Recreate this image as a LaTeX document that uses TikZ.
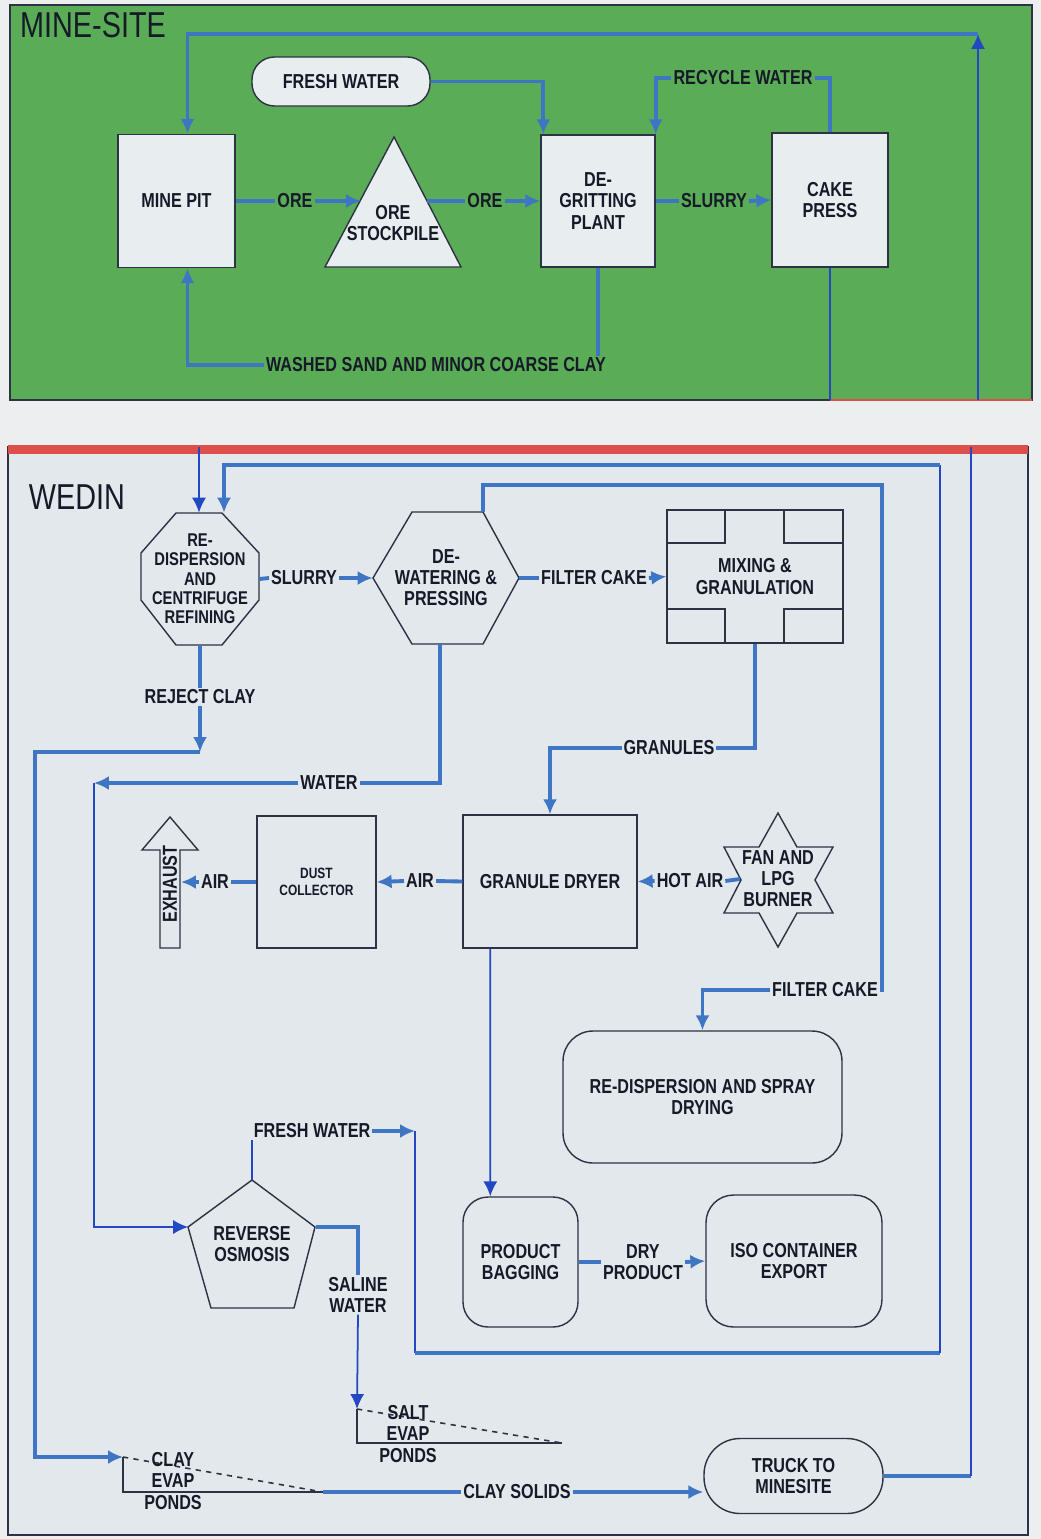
\documentclass[tikz,border=0pt]{standalone}
\usepackage{fontspec}
\setmainfont{Liberation Sans}[FakeStretch=0.8]
\usetikzlibrary{arrows.meta,calc}

\definecolor{page}{RGB}{236,238,240}
\definecolor{minegreen}{RGB}{90,172,86}
\definecolor{wedinbg}{RGB}{226,232,236}
\definecolor{boxfill}{RGB}{232,237,240}
\definecolor{pipeblue}{RGB}{62,118,196}
\definecolor{wireblue}{RGB}{34,72,196}
\definecolor{edge}{RGB}{45,50,68}
\definecolor{ink}{RGB}{22,26,40}
\definecolor{bandred}{RGB}{222,78,74}

\begin{document}
\begin{tikzpicture}[x=0.02cm, y=-0.02cm,
    every node/.style={font=\fontsize{11.5}{12}\selectfont\bfseries, text=ink, align=center, inner sep=1pt},
    title/.style={font=\fontsize{20.5}{22}\selectfont},
    unit/.style={draw=edge, line width=0.8pt},
    flow/.style={draw=pipeblue, line width=2.2pt},
    wire/.style={draw=wireblue, line width=1pt},
    arr/.style={-{Latex[length=8.5pt,width=8pt]}},
    pond/.style={draw=edge, line width=0.9pt, dashed}]

    % Page and panels
    \fill[page] (0,0) rectangle (1041,1539);
    \useasboundingbox (0,0) rectangle (1041,1539);
    \fill[minegreen] (10,5) rectangle (1032,400);
    \draw[edge, line width=0.6pt] (10,5) rectangle (1032,400);
    \draw[bandred, line width=1.5pt] (830,400) -- (1032,400);
    \fill[wedinbg] (8,447) rectangle (1028,1535);
    \draw[edge, line width=0.6pt] (8,447) rectangle (1028,1535);
    \fill[bandred] (8,445) rectangle (1028,454);

    \node[title] (minesite) at (93,25) {MINE-SITE};
    \node[title] (wedin) at (77,497) {WEDIN};

    % Mine-site units
    \node[unit, fill=boxfill, minimum width=2.34cm, minimum height=2.66cm] (minepit) at (176.5,201) {MINE PIT};
    \draw[unit, fill=boxfill] (394,137) -- (461,267) -- (325,267) -- cycle;
    \node (stockpile) at (393,223) {ORE\\STOCKPILE};
    \coordinate (stockin) at (361,201);
    \coordinate (stockout) at (427,201);
    \node[unit, fill=boxfill, minimum width=2.28cm, minimum height=2.64cm] (degrit) at (598,201) {DE-\\GRITTING\\PLANT};
    \node[unit, fill=boxfill, minimum width=2.32cm, minimum height=2.68cm] (cakepress) at (830,200) {CAKE\\PRESS};
    \node[unit, fill=boxfill, rounded corners=0.45cm, minimum width=3.56cm, minimum height=0.98cm] (freshwater) at (341,81.5) {FRESH WATER};

    % Mine-site flows
    \node (ore1) at (295,201) {ORE};
    \node (ore2) at (485,201) {ORE};
    \node (slurry1) at (714,201) {SLURRY};
    \node (recycle) at (743,78) {RECYCLE WATER};
    \node (washed) at (436,365) {WASHED SAND AND MINOR COARSE CLAY};
    \draw[flow] (minepit.east) -- (ore1.west);
    \draw[flow,arr] (ore1.east) -- (stockin);
    \draw[flow] (stockout) -- (ore2.west);
    \draw[flow,arr] (ore2.east) -- (degrit.west);
    \draw[flow] (degrit.east) -- (slurry1.west);
    \draw[flow,arr] (slurry1.east) -- (cakepress.west);
    \draw[flow,arr] (freshwater.east) -| ($(degrit.north west)+(3,0)$);
    \draw[flow] (cakepress.north) |- (recycle.east);
    \draw[flow,arr] (recycle.west) -| (degrit.north east);
    \draw[flow] (degrit.south) -- (degrit.south |- washed.north);
    \draw[flow,arr] (washed.west) -| ($(minepit.south)+(11,0)$);

    % Links between the two sites
    \coordinate (mineright) at (978,400);
    \coordinate (minetop) at (978,34);
    \coordinate (cakeout) at (830,400);
    \coordinate (wedintop) at (199,447);
    \coordinate (wedinright) at (971,447);
    \draw[wire,arr] (mineright) -- (minetop);
    \draw[flow,arr] (minetop) -| ($(minepit.north)+(11,0)$);
    \draw[wire] (cakepress.south) -- (cakeout);

    % Wedin units
    \draw[unit] (176,513) -- (222,513) -- (259,553) -- (259,600) -- (222,645) -- (176,645) -- (141,600) -- (141,553) -- cycle;
    \node[minimum width=2.36cm, minimum height=2.64cm, font=\fontsize{10.5}{11}\selectfont\bfseries] (redisp) at (200,579) {RE-\\DISPERSION\\AND\\CENTRIFUGE\\REFINING};
    \draw[unit] (412,512) -- (483,512) -- (519,578) -- (483,644) -- (412,644) -- (373,578) -- cycle;
    \node[minimum width=2.92cm, minimum height=2.64cm] (dewater) at (446,578) {DE-\\WATERING \&\\PRESSING};
    \node[unit, minimum width=3.52cm, minimum height=2.66cm] (mixing) at (755,576.5) {MIXING \&\\GRANULATION};
    \draw[unit] (667,543) -| (725,510);
    \draw[unit] (784,510) |- (843,543);
    \draw[unit] (667,609) -| (725,643);
    \draw[unit] (784,643) |- (843,609);
    \node[unit, minimum width=3.48cm, minimum height=2.66cm] (dryer) at (550,881.5) {GRANULE DRYER};
    \draw[unit] (778,813) -- (797,847) -- (833,847) -- (815,880) -- (833,913) -- (797,913) -- (778,947)
        -- (759,913) -- (724,913) -- (741,880) -- (724,847) -- (759,847) -- cycle;
    \node[minimum width=1.48cm] (burner) at (778,879) {FAN AND\\LPG\\BURNER};
    \node[unit, minimum width=2.38cm, minimum height=2.64cm, font=\fontsize{8.5}{10}\selectfont\bfseries] (dust) at (316.5,882) {DUST\\COLLECTOR};
    \draw[unit] (170,817) -- (198,850) -- (180,850) -- (180,948) -- (160,948) -- (160,850) -- (142,850) -- cycle;
    \node[rotate=90] (exhaust) at (170,884) {EXHAUST};
    \coordinate (exhaustin) at (181,882);
    \node[unit, rounded corners=0.6cm, minimum width=5.58cm, minimum height=2.64cm] (spray) at (702.5,1097) {RE-DISPERSION AND SPRAY\\DRYING};
    \node[unit, rounded corners=0.5cm, minimum width=2.3cm, minimum height=2.6cm] (bagging) at (520.5,1262) {PRODUCT\\BAGGING};
    \node[unit, rounded corners=0.55cm, minimum width=3.52cm, minimum height=2.64cm] (iso) at (794,1261) {ISO CONTAINER\\EXPORT};
    \draw[unit] (252,1180) -- (315,1227) -- (294,1308) -- (211,1308) -- (188,1227) -- cycle;
    \node[minimum width=2.54cm, minimum height=2.56cm] (ro) at (252,1244) {REVERSE\\OSMOSIS};
    \node[unit, rounded corners=0.72cm, minimum width=3.58cm, minimum height=1.5cm] (truck) at (793.5,1476) {TRUCK TO\\MINESITE};

    % Ponds
    \coordinate (saltin) at (357,1409);
    \draw[unit] (saltin) -- (357,1443) -- (562,1443);
    \draw[pond] (saltin) -- (562,1443);
    \node (saltponds) at (408,1434) {SALT\\EVAP\\PONDS};
    \coordinate (clayin) at (123,1457);
    \coordinate (clayout) at (323,1492);
    \draw[unit] (clayin) -- (123,1492) -- (clayout);
    \draw[pond] (clayin) -- (clayout);
    \node (clayponds) at (173,1481) {CLAY\\EVAP\\PONDS};

    % Wedin flow labels
    \node (slurry2) at (304,578) {SLURRY};
    \node (filtercake1) at (594,578) {FILTER CAKE};
    \node (reject) at (200,697) {REJECT CLAY};
    \node (granules) at (669,748) {GRANULES};
    \node (water) at (329,783) {WATER};
    \node (air2) at (215,882) {AIR};
    \node (air1) at (420,881) {AIR};
    \node (hotair) at (690,881) {HOT AIR};
    \node (filtercake2) at (825,990) {FILTER CAKE};
    \node (fresh2) at (312,1131) {FRESH WATER};
    \node (dryprod) at (643,1262) {DRY\\PRODUCT};
    \node (saline) at (358,1295) {SALINE\\WATER};
    \node (claysolids) at (517,1492) {CLAY SOLIDS};

    % Wedin flows
    \coordinate (fcturn) at (882,485);
    \coordinate (rejturn) at (200,752);
    \coordinate (rejleft) at (35,752);
    \coordinate (waterturn) at (94,783);
    \coordinate (fwturn) at (415,1131);
    \coordinate (loopbl) at (415,1353);
    \coordinate (loopbr) at (940,1353);
    \coordinate (looptr) at (940,465);
    \coordinate (truckturn) at (971,1476);

    \draw[wire,arr] (wedintop) -- ($(redisp.north)+(-1,0)$);
    \draw[flow] (redisp.east) -- (slurry2.west);
    \draw[flow,arr] (slurry2.east) -- (dewater.west);
    \draw[flow] (dewater.east) -- (filtercake1.west);
    \draw[flow,arr] (filtercake1.east) -- (mixing.west);
    \draw[flow] ($(dewater.north)+(37,0)$) |- (fcturn) |- (filtercake2.east);
    \draw[flow,arr] (filtercake2.west) -| (spray.north);
    \draw[flow] (mixing.south) |- (granules.east);
    \draw[flow,arr] (granules.west) -| (dryer.north);
    \draw[flow] ($(dewater.south)+(-6,0)$) |- (water.east);
    \draw[flow,arr] (water.west) -- (waterturn);
    \draw[wire,arr] (waterturn) |- ($(ro.west)+(0,-17)$);
    \draw[flow] (redisp.south) -- (reject.north);
    \draw[flow,arr] (reject.south) -- (rejturn);
    \draw[flow,arr] (rejturn) -- (rejleft) |- (clayin);
    \draw[flow] (burner.west) -- (hotair.east);
    \draw[flow,arr] (hotair.west) -- (dryer.east);
    \draw[flow] (dryer.west) -- (air1.east);
    \draw[flow,arr] (air1.west) -- (dust.east);
    \draw[flow] (dust.west) -- (air2.east);
    \draw[flow,arr] (air2.west) -- (exhaustin);
    \draw[wire,arr] ($(dryer.south west)+(28,0)$) -- ($(bagging.north west)+(28,0)$);
    \draw[flow] (bagging.east) -- (dryprod.west);
    \draw[flow,arr] (dryprod.east) -- (iso.west);
    \draw[wire] (ro.north) -- (ro.north |- fresh2.south);
    \draw[flow,arr] (fresh2.east) -- (fwturn);
    \draw[wire] (fwturn) -- (loopbl);
    \draw[flow] (loopbl) -- (loopbr);
    \draw[wire] (loopbr) -- (looptr);
    \draw[flow,arr] (looptr) -| ($(redisp.north)+(24,0)$);
    \draw[flow] ($(ro.east)+(0,-17)$) -| (saline.north);
    \draw[wire,arr] (saline.south) -- (saltin);
    \draw[flow] (clayout) -- (claysolids.west);
    \draw[flow,arr] (claysolids.east) -- (claysolids.east -| truck.west);
    \draw[flow] (truck.east) -- (truckturn);
    \draw[wire] (truckturn) -- (wedinright);
\end{tikzpicture}
\end{document}
